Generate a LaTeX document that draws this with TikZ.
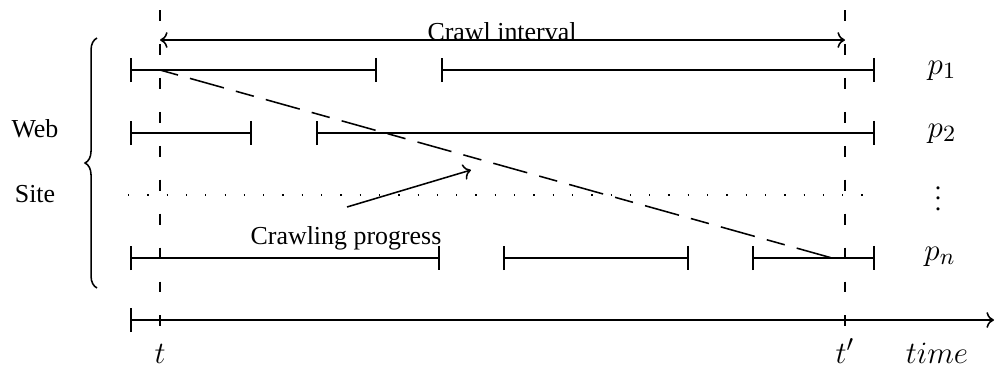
\documentclass[tikz,border=0pt]{standalone}
\usepackage{fontspec}
\setmainfont{Liberation Serif}
\usetikzlibrary{arrows.meta,decorations.pathreplacing}

\begin{document}
\begin{tikzpicture}[x=0.386pt,y=-0.386pt,line width=0.6pt,
    span/.style={{Bar[width=9.3pt]}-{Bar[width=9.3pt]}},
    epoch/.style={dash pattern=on 4.2pt off 8.9pt},
    progress/.style={dash pattern=on 7.2pt off 4.8pt on 13.6pt off 4.8pt},
    pagedots/.style={line width=0.5pt,dash pattern=on 0.5pt off 6.95pt},
    mathlabel/.style={anchor=base,inner sep=0.5pt,font=\fontsize{12.6}{15}\selectfont}]
      \useasboundingbox (0,0) rectangle (995,366);
      % crawl start and end
      \coordinate (ttop) at (160,10);
      \coordinate (tbot) at (160,334);
      \coordinate (tptop) at (845,10);
      \coordinate (tpbot) at (845,334);
      \draw[epoch] (ttop) -- (tbot);
      \draw[epoch] (tptop) -- (tpbot);
      \coordinate (cia) at (160,40);
      \coordinate (cib) at (845,40);
      \draw[<->] (cia) -- (cib);
      \node[anchor=base] (crawl) at (502,40) {Crawl interval};
      % pages
      \begin{scope}[span]
        \draw (130,70) -- (377,70);
        \draw (441,70) -- (875,70);
        \draw (130,133) -- (252,133);
        \draw (316,133) -- (875,133);
        \draw (130,258) -- (440,258);
        \draw (503,258) -- (689,258);
        \draw (752,258) -- (875,258);
      \end{scope}
      \draw[pagedots] (128,195) -- (866,195);
      \draw
        (942,74) node[mathlabel] (p1){$p_1$}
        (942,137) node[mathlabel] (p2){$p_2$}
        (938,191) node (pdots){$\vdots$}
        (940,260) node[mathlabel] (pn){$p_n$};
      % web site
      \node[anchor=base] (web) at (35,137) {Web};
      \node[anchor=base] (site) at (35,202) {Site};
      \draw[decorate,decoration={brace,amplitude=4.6pt}] (97,288) -- (97,38);
      % time axis
      \draw[{Bar[width=9.3pt]}->] (130,320) -- (994,320);
      \draw
        (160,363) node[mathlabel] (t){$t$}
        (845,363) node[mathlabel] (tp){$t'$}
        (937,363) node[mathlabel] (time){$time$};
      % progress
      \coordinate (pstart) at (160,70);
      \coordinate (pend) at (832,258);
      \draw[progress] (pstart) -- (pend);
      \node[anchor=base] (prog) at (346,244) {Crawling progress};
      \coordinate (ptail) at (347,207);
      \coordinate (phead) at (471,170);
      \draw[->] (ptail) -- (phead);
    \end{tikzpicture}
\end{document}
